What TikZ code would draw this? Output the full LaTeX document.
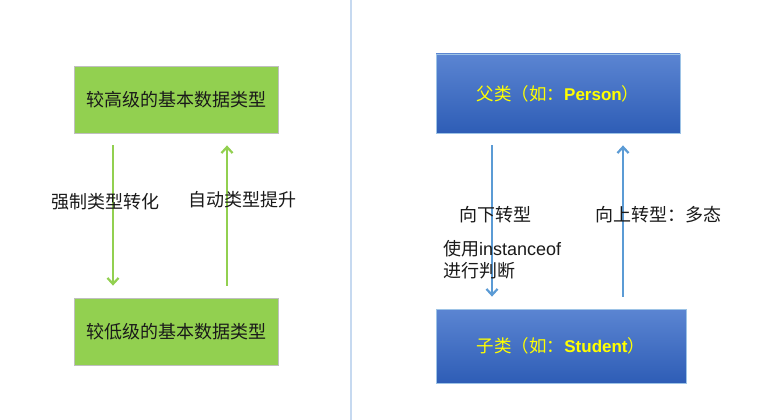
\documentclass[tikz,border=0pt]{standalone}
\usepackage{fontspec}
\setmainfont{Liberation Sans}
\newfontfamily\cjk{Noto Sans CJK SC}
\newfontfamily\lib{Liberation Sans}
\usetikzlibrary{arrows.meta}
\definecolor{gfill}{HTML}{92D050}
\definecolor{btop}{HTML}{5B85D2}
\definecolor{bbot}{HTML}{2E5DB6}
\definecolor{bline}{HTML}{5B9BD5}
\definecolor{sepc}{HTML}{C6D9F0}
\definecolor{ytext}{HTML}{FFFF00}
\definecolor{dtext}{HTML}{1A1A1A}
\tikzset{
  gbox/.style={draw=black!25, line width=0.8pt, fill=gfill, minimum width=204pt, minimum height=67pt, inner sep=0pt, font=\cjk\fontsize{18}{21}\selectfont, text=dtext},
  bbox/.style={draw=bline!60, line width=0.8pt, top color=btop, bottom color=bbot, minimum height=78pt, inner sep=0pt, font=\cjk\fontsize{17.5}{20}\selectfont, text=ytext},
  garrow/.style={draw=gfill, line width=2.6pt, -{Straight Barb[length=6pt,width=11pt,line width=2.2pt]}},
  barrow/.style={draw=bline, line width=2.4pt, -{Straight Barb[length=6pt,width=11pt,line width=2.2pt]}},
  lbl/.style={font=\cjk\fontsize{18}{22}\selectfont, text=dtext, inner sep=0pt},
}
\begin{document}
\begin{tikzpicture}[x=1pt,y=-1pt]
\useasboundingbox[fill=white] (0,0) rectangle (777,420);
% separator
\draw[sepc, line width=1.6pt] (351,0) -- (351,420);
% left side
\node[gbox] (hi) at (176,99.5) {较高级的基本数据类型};
\node[gbox] (lo) at (176,331.5) {较低级的基本数据类型};
\coordinate (g1) at ([xshift=-63pt,yshift=-12pt]hi.south);
\coordinate (g2) at ([yshift=12pt]lo.north);
\coordinate (g3) at ([xshift=51pt,yshift=-12pt]hi.south);
\draw[garrow] (g1) -- (g1 |- g2);
\draw[garrow] (g3 |- g2) -- (g3);
\node[lbl] (l1) at (105,202) {强制类型转化};
\node[lbl] (l2) at (242,200) {自动类型提升};
% right side
\node[bbox, minimum width=244pt, minimum height=79pt] (p) at (558,93.5) {父类（如：{\lib\bfseries\fontsize{17}{20}\selectfont Person}）};
\node[bbox, minimum width=250pt, minimum height=74pt] (c) at (561,346) {子类（如：{\lib\bfseries\fontsize{17}{20}\selectfont Student}）};
\coordinate (b1) at ([xshift=-66pt,yshift=-12pt]p.south);
\coordinate (b2) at ([yshift=12pt]c.north);
\coordinate (b3) at ([xshift=65pt,yshift=-12pt]p.south);
\draw[barrow] (b1) -- (b1 |- b2);
\draw[barrow] (b3 |- b2) -- (b3);
\node[lbl, anchor=west] (l3) at (459,215) {向下转型};
\node[lbl, anchor=west] (l4) at (595,215) {向上转型：多态};
\node[lbl, anchor=north west, align=left] (l5) at (443,240) {使用{\lib instanceof}\\进行判断};
\end{tikzpicture}
\end{document}
